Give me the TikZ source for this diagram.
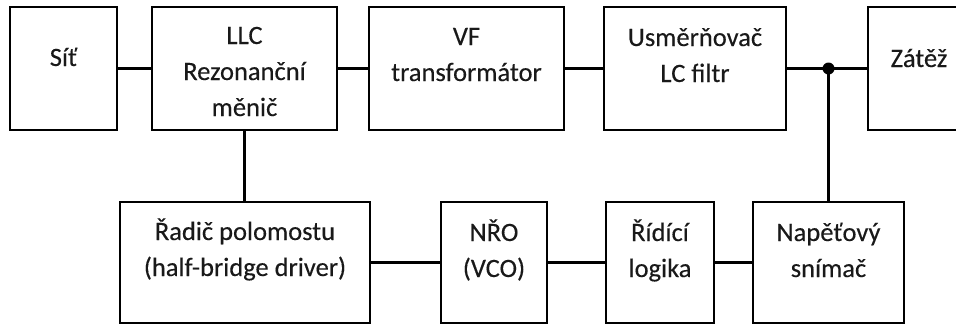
\documentclass[tikz,border=0pt]{standalone}
\usepackage{fontspec}
\setmainfont{Carlito}[FakeBold=0.3]
\begin{document}
\begin{tikzpicture}[x=1pt,y=-1pt,
  box/.style={draw=black, line width=2pt, inner sep=0pt, outer sep=0pt, minimum height=123},
  lowbox/.style={box, minimum height=121},
  txt/.style={anchor=base, inner sep=0pt, text=black!90, font=\fontsize{26.5}{36}\selectfont},
  wire/.style={line width=2.2pt}]
\useasboundingbox (0,0) rectangle (956,324);
% top row
\node[box, minimum width=107] (sit) at (63.5,68.5) {};
\node[box, minimum width=185] (llc) at (244.5,68.5) {};
\node[box, minimum width=195] (vf) at (466.5,68.5) {};
\node[box, minimum width=182] (usm) at (695,68.5) {};
\node[box, minimum width=132] (zat) at (934,68.5) {};
% bottom row
\node[lowbox, minimum width=250] (rad) at (245,262.5) {};
\node[lowbox, minimum width=106] (nro) at (494,262.5) {};
\node[lowbox, minimum width=108] (rid) at (660,262.5) {};
\node[lowbox, minimum width=151] (nap) at (828.5,262.5) {};
% texts
\node[txt] (t1) at (63.5,66) {Síť};
\node[txt] (t2a) at (244.5,44) {LLC};
\node[txt] (t2b) at (244.5,80) {Rezonanční};
\node[txt] (t2c) at (244.5,116) {měnič};
\node[txt] (t3a) at (466.5,45) {VF};
\node[txt] (t3b) at (466.5,81) {transformátor};
\node[txt] (t4a) at (695,46) {Usměrňovač};
\node[txt] (t4b) at (695,82) {LC filtr};
\node[txt] (t5) at (919,67) {Zátěž};
\node[txt] (t6a) at (245,240) {Řadič polomostu};
\node[txt] (t6b) at (245,276) {(half-bridge driver)};
\node[txt] (t7a) at (494,241) {NŘO};
\node[txt] (t7b) at (494,277) {(VCO)};
\node[txt] (t8a) at (660,241) {Řídící};
\node[txt] (t8b) at (660,277) {logika};
\node[txt] (t9a) at (828.5,241) {Napěťový};
\node[txt] (t9b) at (828.5,277) {snímač};
% connectors
\coordinate (j) at (nap.north |- usm.east);
\draw[wire] (sit) -- (llc);
\draw[wire] (llc) -- (vf);
\draw[wire] (vf) -- (usm);
\draw[wire] (usm) -- (zat);
\fill (j) circle (6);
\draw[wire] (j) -- (nap.north);
\draw[wire] (llc.south) -- (llc.south |- rad.north);
\draw[wire] (rad) -- (nro);
\draw[wire] (nro) -- (rid);
\draw[wire] (rid) -- (nap);
\end{tikzpicture}
\end{document}
